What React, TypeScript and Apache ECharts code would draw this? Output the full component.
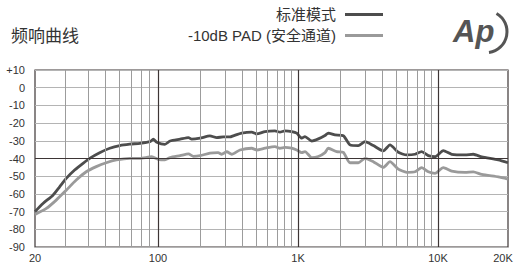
import React, { useEffect, useRef } from "react";
import * as echarts from "echarts";

// Frequency response: standard mode
const DARK_FREQ = [20, 22.2, 25.3, 27.6, 30.1, 33.6, 37.5, 40.9, 46.6, 53.2, 60.6, 69.1, 79, 90.1, 94, 98.3, 112, 122, 144, 165, 174, 200, 235, 263, 293, 327, 345, 396, 467, 507, 581, 685, 743, 807, 902, 979, 1063, 1122, 1253, 1397, 1559, 1646, 1838, 2107, 2352, 2696, 3010, 3451, 4067, 4541, 5205, 5976, 6850, 7647, 8524, 9519, 10540, 11453, 13065, 14185, 15415, 18170, 20000];
const DARK_DB = [-70, -65.4, -60.7, -56, -51.2, -46.5, -42.7, -39.9, -36.7, -34.2, -32.7, -31.9, -31.4, -30.5, -29.1, -30.8, -32, -30.1, -29.1, -28.2, -29.1, -28.5, -27.2, -28.2, -27.8, -27.8, -27.2, -25.7, -25.1, -26.1, -24.8, -24.4, -25.1, -24.4, -24.8, -25.7, -28.5, -27.6, -30.1, -28.9, -27, -25.7, -26.7, -27.1, -32.3, -32.7, -30.5, -32.7, -35.7, -32.3, -36.5, -38, -37.6, -36.1, -38.4, -39, -35.6, -37.6, -38, -37.6, -39.1, -40.8, -42.4];

// Frequency response: -10dB PAD
const LIGHT_FREQ = [20, 23.2, 26.4, 30.1, 34.3, 39.1, 44.6, 50.8, 58, 69.1, 79, 92.1, 100.5, 112, 122, 144, 165, 179, 200, 235, 269, 285, 310, 336, 385, 467, 507, 581, 685, 743, 807, 902, 979, 1063, 1122, 1253, 1397, 1559, 1646, 1890, 2107, 2352, 2696, 3010, 3451, 4067, 4541, 5205, 5976, 6850, 7647, 8524, 9519, 10540, 11453, 13065, 14185, 15415, 18170, 20000];
const LIGHT_DB = [-71.6, -68.2, -63.5, -57.9, -52.2, -47.5, -44.6, -42.4, -40.8, -39.9, -39.9, -39, -40.5, -40.8, -39.5, -38.4, -37.4, -38.8, -38.4, -37, -36.7, -37.6, -36.2, -37.6, -35.2, -34.2, -35.2, -34.2, -33.3, -34.2, -33.7, -34.2, -35.2, -36.7, -36.1, -39.5, -38.9, -36.7, -34.2, -36.1, -36.5, -42.4, -42.4, -39.9, -41.8, -45, -41.8, -46, -47.8, -47.5, -45.2, -47.5, -48.4, -45.2, -47.1, -47.8, -47.5, -49, -50.4, -51.6];

const SERIES_NAMES = ["标准模式", "-10dB PAD (安全通道)"];
const TITLE = "频响曲线";

const X_TICK_FREQ = [20, 100, 1000, 10000, 20000];
const X_TICK_LABELS = ["20", "100", "1K", "10K", "20K"];
const MINOR_FREQ = [30, 40, 50, 60, 70, 80, 90, 200, 300, 400, 500, 600, 700, 800, 900, 2000, 3000, 4000, 5000, 6000, 7000, 8000, 9000];
const MAJOR_FREQ = [100, 1000, 10000];
const Y_MIN = -90;
const Y_MAX = 10;
const Y_STEP = 10;
const Y_MAJOR = [-40];

// The chart's frequency axis is piecewise logarithmic (decade units, 100 Hz = 0)
function fx(f: number): number {
  const L = Math.log10(f);
  if (L <= 2) return (-123 / 140) * (2 - L) / Math.log10(5);
  if (L <= 4) return L - 2;
  return 2 + 0.5 * (L - 4) / Math.log10(2);
}

const FONT_NUM = "'Liberation Sans Narrow', 'Liberation Sans', Arial, sans-serif";
const FONT_TXT = "'Liberation Sans', 'Noto Sans CJK SC', sans-serif";

export default function App() {
  const ref = useRef<HTMLDivElement>(null);
  useEffect(() => {
    if (!ref.current) return;
    const chart = echarts.init(ref.current, null, { renderer: "svg" });
    const tickU = X_TICK_FREQ.map(fx);
    chart.setOption({
      animation: false,
      backgroundColor: "#ffffff",
      title: {
        text: TITLE,
        left: 11,
        top: 26,
        padding: 0,
        textStyle: { fontSize: 17, fontWeight: "normal", color: "#333", fontFamily: "'Noto Sans CJK SC', sans-serif" },
      },
      legend: {
        data: SERIES_NAMES,
        orient: "vertical",
        right: 133,
        top: 7,
        padding: 0,
        align: "right",
        itemWidth: 38,
        itemHeight: 3,
        itemGap: 6,
        icon: "rect",
        selectedMode: false,
        textStyle: { fontSize: 15, color: "#333", fontFamily: FONT_TXT, padding: [0, 4, 0, 0] },
      },
      grid: {
        left: 35,
        right: 8,
        top: 70,
        bottom: 17,
        containLabel: false,
        outerBoundsMode: "none",
        show: true,
        borderColor: "#3d3535",
        borderWidth: 1.2,
        backgroundColor: "transparent",
      },
      xAxis: {
        type: "value",
        min: fx(20),
        max: fx(20000),
        axisLine: { show: false },
        axisTick: { show: false },
        splitLine: { show: false },
        axisLabel: {
          customValues: tickU,
          margin: 5,
          fontSize: 11,
          color: "#333",
          fontFamily: FONT_NUM,
          rich: {
            e: { fontSize: 11, color: "#333", fontFamily: FONT_NUM, padding: [0, 10, 0, 0] },
          },
          formatter: (v: number) => {
            let best = 0;
            for (let i = 0; i < tickU.length; i++) {
              if (Math.abs(tickU[i] - v) < Math.abs(tickU[best] - v)) best = i;
            }
            return best === tickU.length - 1 ? "{e|" + X_TICK_LABELS[best] + "}" : X_TICK_LABELS[best];
          },
        },
      },
      yAxis: {
        type: "value",
        min: Y_MIN,
        max: Y_MAX,
        interval: Y_STEP,
        axisLine: { show: false },
        axisTick: { show: false },
        splitLine: { show: true, lineStyle: { color: "#b4b4b4", width: 1 } },
        axisLabel: {
          margin: 10,
          fontSize: 11,
          color: "#333",
          fontFamily: FONT_NUM,
          formatter: (v: number) => (v > 0 ? "+" + v : String(v)),
        },
      },
      series: [
        {
          type: "line",
          name: "grid-minor",
          data: [],
          z: 1,
          silent: true,
          markLine: {
            silent: true,
            symbol: "none",
            label: { show: false },
            emphasis: { disabled: true },
            lineStyle: { color: "#9c9c9c", width: 1, type: "solid" },
            data: MINOR_FREQ.map((f) => ({ xAxis: fx(f) })),
          },
        },
        {
          type: "line",
          name: "grid-major",
          data: [],
          z: 2,
          silent: true,
          markLine: {
            silent: true,
            symbol: "none",
            label: { show: false },
            emphasis: { disabled: true },
            lineStyle: { color: "#3d3535", width: 1.2, type: "solid" },
            data: [
              ...MAJOR_FREQ.map((f) => ({ xAxis: fx(f) })),
              ...Y_MAJOR.map((y) => ({ yAxis: y })),
            ],
          },
        },
        {
          type: "line",
          name: SERIES_NAMES[1],
          data: LIGHT_FREQ.map((f, i) => [fx(f), LIGHT_DB[i]]),
          showSymbol: false,
          smooth: 0.2,
          z: 3,
          color: "#9a9a9a",
          lineStyle: { color: "#9a9a9a", width: 2.8 },
        },
        {
          type: "line",
          name: SERIES_NAMES[0],
          data: DARK_FREQ.map((f, i) => [fx(f), DARK_DB[i]]),
          showSymbol: false,
          smooth: 0.2,
          z: 4,
          color: "#4d4d4d",
          lineStyle: { color: "#4d4d4d", width: 2.8 },
        },
      ],
      graphic: [
        {
          type: "group",
          left: 453,
          top: 11,
          children: [
            {
              type: "text",
              x: 0,
              y: 2,
              style: {
                text: "Ap",
                fontSize: 31,
                fontStyle: "italic",
                fontWeight: 900,
                fontFamily: "'Liberation Sans', Arial, sans-serif",
                fill: "#555",
              },
            },
            {
              type: "arc",
              shape: { cx: 33, cy: 18, r: 21, startAngle: -Math.PI / 3, endAngle: Math.PI / 2.2 },
              style: { stroke: "#555", lineWidth: 3, fill: "none" },
            },
          ],
        },
      ],
    });
    return () => chart.dispose();
  }, []);
  return <div ref={ref} style={{ position: "absolute", left: 0, top: 0, width: 516, height: 264 }} />;
}
